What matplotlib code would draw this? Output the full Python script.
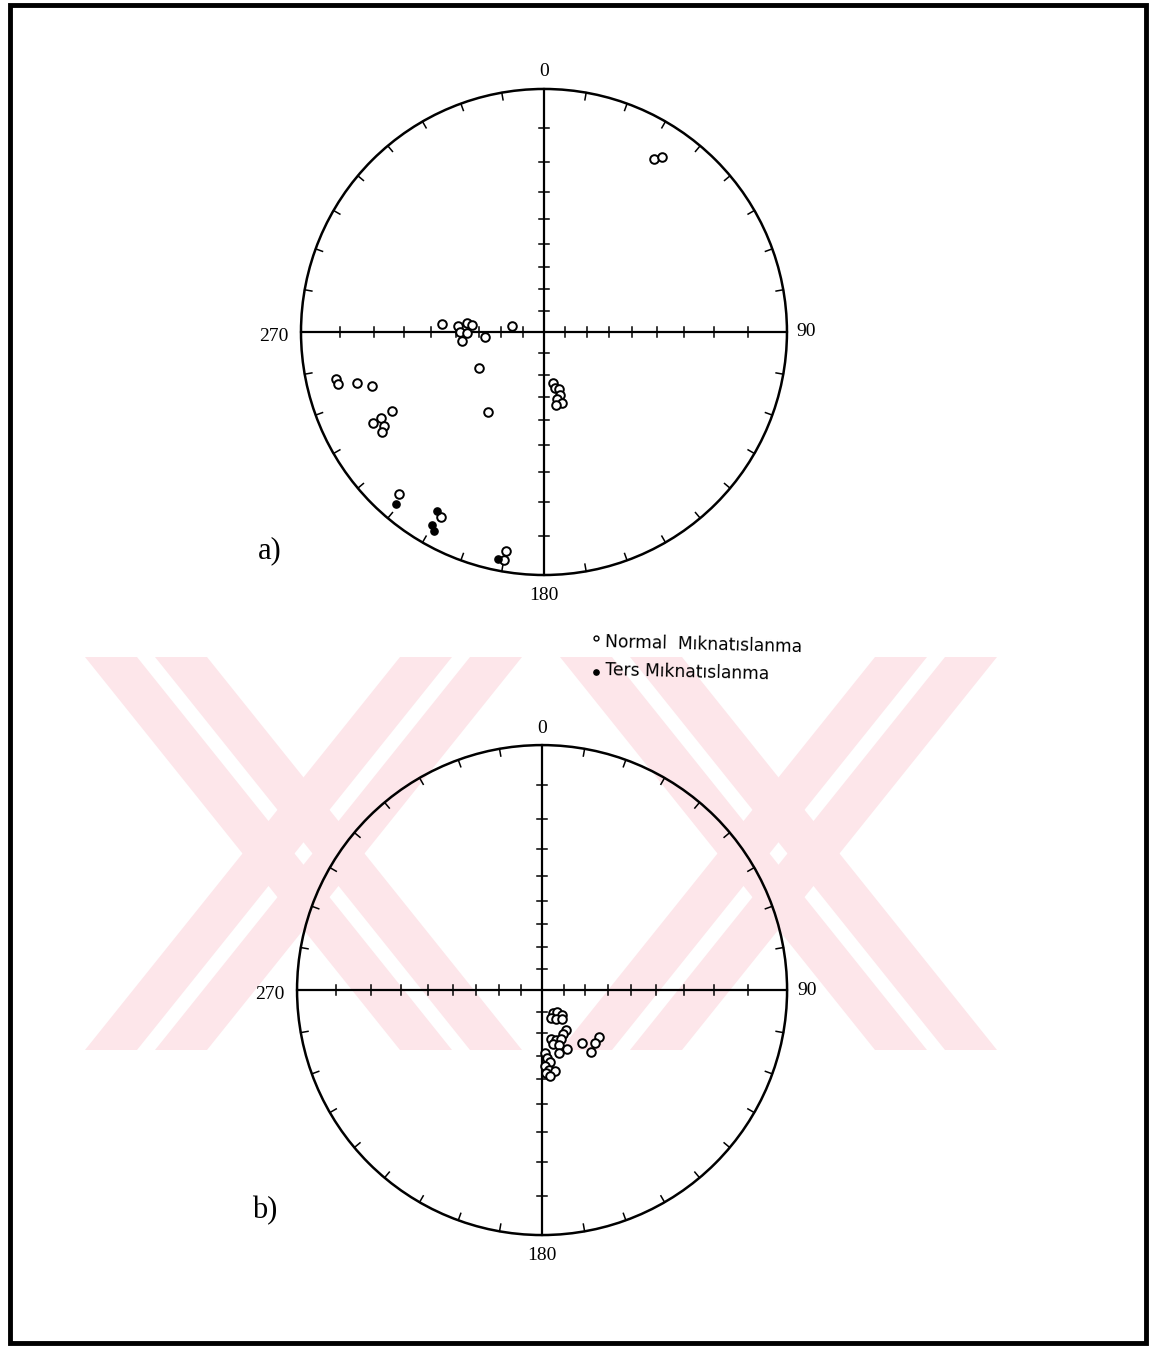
import numpy as np
import matplotlib.pyplot as plt
from matplotlib.patches import Circle, Polygon, Rectangle

# a) declination / inclination of site means (negative inclination = reverse)
dec_a = [274.5, 274.2, 276.9, 275.8, 269.8, 269.5, 264.0, 265.5, 281.2, 240.8, 214.9,
         257.3, 255.8, 254.6, 252.6, 242.7, 242.1, 242.1, 239.5, 238.3,
         170.3, 168.9, 165.1, 165.8, 169.2, 165.9, 170.9,
         221.8, 220.7, 210.9, 209.1, 210.2, 208.9, 189.8, 191.4, 190.0,
         32.6, 33.9]
inc_a = [44.2, 51.1, 54.5, 56.7, 51.9, 54.7, 52.4, 62.5, 74.9, 55.9, 46.4,
         7.5, 7.7, 12.9, 16.8, 19.6, 15.5, 12.9, 15.4, 13.8,
         66.1, 63.4, 62.6, 59.9, 58.8, 56.6, 56.2,
         6.3, -3.9, -8.7, 7.9, -4.8, -3.8, 5.1, -2.8, 2.8,
         9.7, 8.0]

# b) declination / inclination after correction
dec_b = [153.5, 145.2, 140.9, 162.9, 154.5, 146.1, 149.0, 154.8, 170.0, 164.7,
         159.2, 168.2, 162.5, 157.4, 164.8, 143.3, 129.5, 134.8, 141.9,
         177.3, 176.1, 173.6, 177.7, 174.8, 170.8, 177.3, 174.7]
inc_b = [78.2, 77.5, 75.0, 76.2, 74.9, 73.6, 68.4, 67.5, 66.9, 66.1,
         65.7, 64.6, 63.5, 60.6, 60.3, 59.7, 56.6, 56.1, 54.3,
         61.0, 58.8, 57.2, 55.5, 53.7, 53.1, 52.4, 51.2]

legend_labels = ['Normal  Mıknatıslanma', 'Ters Mıknatıslanma']
ring_labels = ['0', '90', '180', '270']


def wulff(dec, inc):
    # stereographic (equal angle) projection, unit primitive circle
    dec = np.radians(np.asarray(dec, float))
    inc = np.abs(np.asarray(inc, float))
    r = np.tan(np.radians(90 - inc) / 2)
    return r * np.sin(dec), r * np.cos(dec)


def stereonet(ax, dec, inc, tag):
    ax.set_xlim(-1, 1)
    ax.set_ylim(-1, 1)
    ax.axis('off')
    ax.add_patch(Circle((0, 0), 1, fill=False, lw=1.8, color='k', clip_on=False))
    ax.plot([-1, 1], [0, 0], color='k', lw=1.6, clip_on=False)
    ax.plot([0, 0], [-1, 1], color='k', lw=1.6, clip_on=False)
    # azimuth ticks on the primitive
    for az in np.radians(np.arange(0, 360, 10)):
        s, c = np.sin(az), np.cos(az)
        ax.plot([s, 0.97 * s], [c, 0.97 * c], color='k', lw=1.1, clip_on=False)
    # inclination ticks along the axes
    tl = 0.022
    for i in range(10, 90, 10):
        r = np.tan(np.radians(90 - i) / 2)
        for sgn in (-1, 1):
            ax.plot([sgn * r, sgn * r], [-tl, tl], color='k', lw=1.1)
            ax.plot([-tl, tl], [sgn * r, sgn * r], color='k', lw=1.1)
    x, y = wulff(dec, inc)
    inc = np.asarray(inc)
    up = inc < 0
    ax.plot(x[~up], y[~up], 'o', ms=6.2, mfc='white', mec='k', mew=1.4, ls='none', zorder=5)
    ax.plot(x[up], y[up], 'o', ms=5.2, mfc='k', mec='k', ls='none', zorder=6)
    f = dict(family='Liberation Serif', fontsize=14, clip_on=False)
    ax.text(0, 1.035, ring_labels[0], ha='center', va='bottom', **f)
    ax.text(1.04, 0, ring_labels[1], ha='left', va='center', **f)
    ax.text(0, -1.05, ring_labels[2], ha='center', va='top', **f)
    ax.text(-1.05, -0.02, ring_labels[3], ha='right', va='center', **f)
    ax.text(-1.13, -0.9, tag, ha='center', va='center', family='Liberation Serif', fontsize=22)


fig = plt.figure(figsize=(11.59, 13.52), dpi=100)

# faint striped stamp behind the lower net, pixel coordinates
bg = fig.add_axes([0, 0, 1, 1], zorder=-1)
bg.set_xlim(0, 1159)
bg.set_ylim(1352, 0)
bg.axis('off')
pink = '#fde6ea'
y0, y1, shift = 657, 1050, 315


def stripe(xa, w, sgn):
    bg.add_patch(Polygon([(xa, y0), (xa + w, y0), (xa + w + sgn * shift, y1), (xa + sgn * shift, y1)],
                         closed=True, color=pink, lw=0))


for xa in (85, 560):
    stripe(xa, 52, 1)
    stripe(xa + 70, 52, 1)
for xa in (400, 875):
    stripe(xa, 52, -1)
    stripe(xa + 70, 52, -1)

ax1 = fig.add_axes([0.2597, 0.5747, 0.4193, 0.3595])
stereonet(ax1, dec_a, inc_a, 'a)')

ax2 = fig.add_axes([0.2563, 0.0865, 0.4228, 0.3624])
stereonet(ax2, dec_b, inc_b, 'b)')

# legend
lg = dict(family='DejaVu Sans', fontsize=12.3, rotation=-1.5, ha='left', va='center')
fig.text(0.522, 1 - 645 / 1352, legend_labels[0], **lg)
fig.text(0.522, 1 - 672 / 1352, legend_labels[1], **lg)
fig.add_artist(plt.Line2D([0.5145], [1 - 638 / 1352], marker='o', ms=3.5, mfc='white',
                          mec='k', mew=1.0, transform=fig.transFigure))
fig.add_artist(plt.Line2D([0.5145], [1 - 672 / 1352], marker='o', ms=3.8, mfc='k',
                          mec='k', transform=fig.transFigure))

# page frame
fig.add_artist(Rectangle((10 / 1159, 1 - 1343 / 1352), 1136 / 1159, 1338 / 1352,
                         fill=False, lw=3.5, ec='k', transform=fig.transFigure))

fig.savefig('out.png', dpi=100)
